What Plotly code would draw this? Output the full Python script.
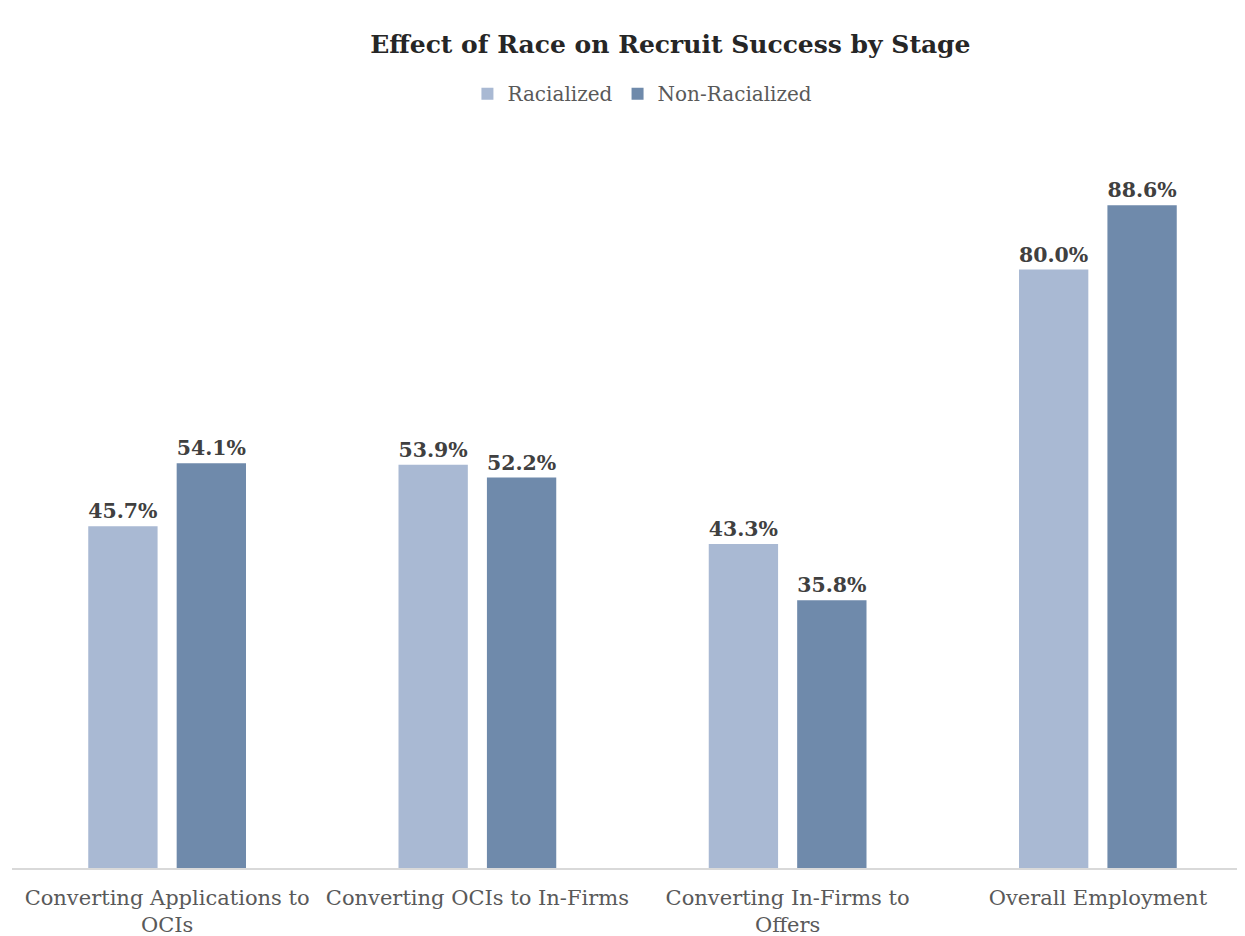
import plotly.graph_objects as go

categories = ["Converting Applications to<br>OCIs", "Converting OCIs to In-Firms",
              "Converting In-Firms to<br>Offers", "Overall Employment"]
racialized = [45.7, 53.9, 43.3, 80.0]
non_racialized = [54.1, 52.2, 35.8, 88.6]

FONT = "DejaVu Serif"
label_font = dict(family="DejaVu Serif", size=21, color="#404040")

fig = go.Figure()
fig.add_trace(go.Bar(
    name="Racialized", x=categories, y=racialized,
    marker=dict(color="#A9B9D3", line=dict(width=0)),
    texttemplate="<b>%{y:.1f}%</b>", textposition="outside",
    textfont=label_font, cliponaxis=False))
fig.add_trace(go.Bar(
    name="Non-Racialized", x=categories, y=non_racialized,
    marker=dict(color="#6F8AAB", line=dict(width=0)),
    texttemplate="<b>%{y:.1f}%</b>", textposition="outside",
    textfont=label_font, cliponaxis=False))

fig.update_layout(
    width=1245, height=936,
    paper_bgcolor="white", plot_bgcolor="white",
    margin=dict(l=4, r=0, t=112, b=76, autoexpand=False),
    barmode="group", bargap=0.43, bargroupgap=0.216,
    title=dict(text="<b>Effect of Race on Recruit Success by Stage</b>",
               x=0.532, xanchor="center", y=0.961, yanchor="middle",
               font=dict(family="DejaVu Serif", size=25, color="#262626")),
    legend=dict(orientation="h", x=0.508, xanchor="center", y=0.9085, yanchor="middle",
                yref="container",
                font=dict(family=FONT, size=20, color="#595959"),
                itemsizing="constant", traceorder="normal"),
    showlegend=True,
)
fig.update_xaxes(showline=True, linecolor="#D9D9D9", linewidth=1.5,
                 ticks="", automargin=False, ticklabelstandoff=10,
                 tickfont=dict(family=FONT, size=21, color="#595959"),
                 showgrid=False)
fig.update_yaxes(range=[0, 100], visible=False, showgrid=False, automargin=False)

fig.write_html("out.html")
